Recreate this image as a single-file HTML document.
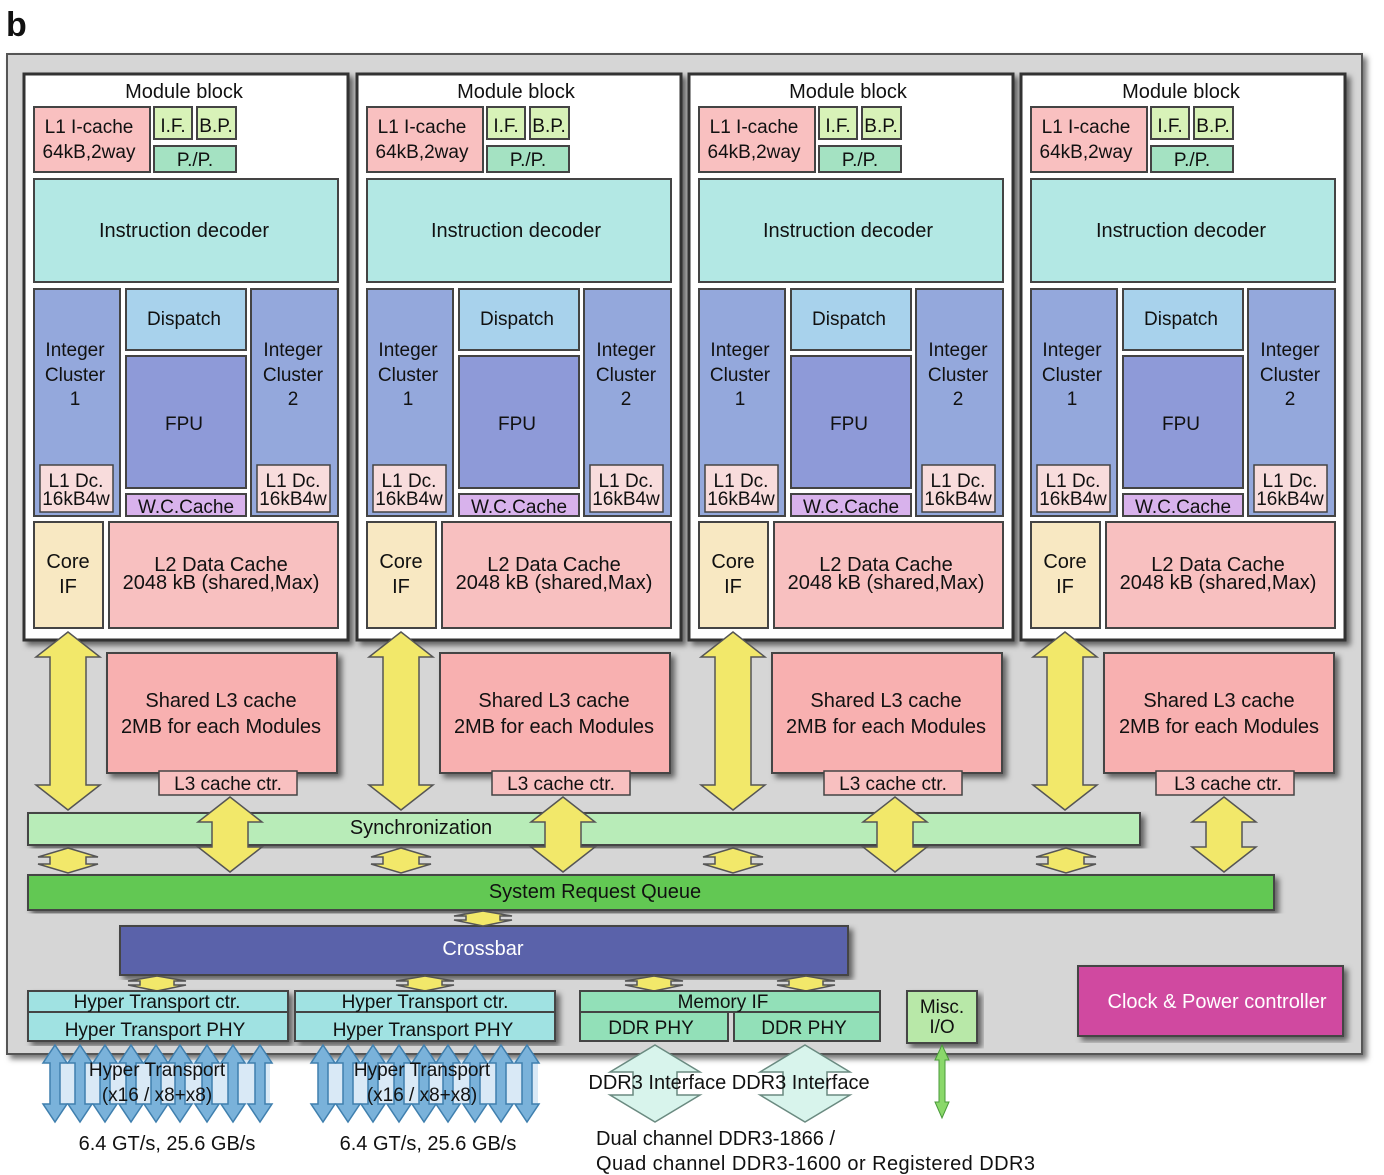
<!DOCTYPE html>
<html><head><meta charset="utf-8"><style>
html,body{margin:0;padding:0;background:#fff}
svg{display:block}
text{font-family:"Liberation Sans",Arial,sans-serif;fill:#111}
</style></head><body>
<svg width="1384" height="1175" viewBox="0 0 1384 1175" xmlns="http://www.w3.org/2000/svg">
<defs>
<filter id="sh" x="-5%" y="-5%" width="115%" height="115%"><feDropShadow dx="4" dy="4" stdDeviation="3" flood-color="#000" flood-opacity="0.55"/></filter>
</defs>
<text x="6" y="36" font-size="34" font-weight="bold">b</text>
<rect x="7" y="54" width="1355" height="1000" fill="#d6d6d6" stroke="#555" stroke-width="2" filter="url(#sh)"/>

<g id="mods" stroke="#444" stroke-width="2">
<g transform="translate(0,0)">
<rect x="24" y="74" width="324" height="566" fill="#fff" stroke="#333" stroke-width="3" filter="url(#sh)"/>
<rect x="34" y="107" width="116" height="65" fill="#f9c0c0"/>
<rect x="154" y="107" width="38" height="32" fill="#d8f2b8"/>
<rect x="197" y="107" width="39" height="32" fill="#d8f2b8"/>
<rect x="154" y="146" width="82" height="26" fill="#a4e2c2"/>
<rect x="34" y="179" width="304" height="103" fill="#b3e8e4"/>
<rect x="34" y="289" width="86" height="227" fill="#94a8dc"/>
<rect x="126" y="289" width="120" height="61" fill="#a8d2ec"/>
<rect x="126" y="356" width="120" height="132" fill="#8e9ad8"/>
<rect x="126" y="494" width="120" height="22" fill="#d8b2ec"/>
<rect x="251" y="289" width="87" height="227" fill="#94a8dc"/>
<rect x="40" y="465" width="73" height="47" fill="#f8dcdc" stroke-width="1.5"/>
<rect x="257" y="465" width="73" height="47" fill="#f8dcdc" stroke-width="1.5"/>
<rect x="34" y="522" width="69" height="106" fill="#f8e8c2"/>
<rect x="109" y="522" width="229" height="106" fill="#f8c0c0"/>
<rect x="107" y="653" width="230" height="120" fill="#f8b0b0" filter="url(#sh)"/>
<rect x="159" y="771" width="138" height="24" fill="#f8c0c0" stroke-width="1.5"/>
<path d="M68,632 L100,657 L86,657 L86,785 L100,785 L68,810 L36,785 L50,785 L50,657 L36,657 Z" fill="#f2e86a" stroke="#555" stroke-width="1.5"/>
</g>
<g transform="translate(333,0)">
<rect x="24" y="74" width="324" height="566" fill="#fff" stroke="#333" stroke-width="3" filter="url(#sh)"/>
<rect x="34" y="107" width="116" height="65" fill="#f9c0c0"/>
<rect x="154" y="107" width="38" height="32" fill="#d8f2b8"/>
<rect x="197" y="107" width="39" height="32" fill="#d8f2b8"/>
<rect x="154" y="146" width="82" height="26" fill="#a4e2c2"/>
<rect x="34" y="179" width="304" height="103" fill="#b3e8e4"/>
<rect x="34" y="289" width="86" height="227" fill="#94a8dc"/>
<rect x="126" y="289" width="120" height="61" fill="#a8d2ec"/>
<rect x="126" y="356" width="120" height="132" fill="#8e9ad8"/>
<rect x="126" y="494" width="120" height="22" fill="#d8b2ec"/>
<rect x="251" y="289" width="87" height="227" fill="#94a8dc"/>
<rect x="40" y="465" width="73" height="47" fill="#f8dcdc" stroke-width="1.5"/>
<rect x="257" y="465" width="73" height="47" fill="#f8dcdc" stroke-width="1.5"/>
<rect x="34" y="522" width="69" height="106" fill="#f8e8c2"/>
<rect x="109" y="522" width="229" height="106" fill="#f8c0c0"/>
<rect x="107" y="653" width="230" height="120" fill="#f8b0b0" filter="url(#sh)"/>
<rect x="159" y="771" width="138" height="24" fill="#f8c0c0" stroke-width="1.5"/>
<path d="M68,632 L100,657 L86,657 L86,785 L100,785 L68,810 L36,785 L50,785 L50,657 L36,657 Z" fill="#f2e86a" stroke="#555" stroke-width="1.5"/>
</g>
<g transform="translate(665,0)">
<rect x="24" y="74" width="324" height="566" fill="#fff" stroke="#333" stroke-width="3" filter="url(#sh)"/>
<rect x="34" y="107" width="116" height="65" fill="#f9c0c0"/>
<rect x="154" y="107" width="38" height="32" fill="#d8f2b8"/>
<rect x="197" y="107" width="39" height="32" fill="#d8f2b8"/>
<rect x="154" y="146" width="82" height="26" fill="#a4e2c2"/>
<rect x="34" y="179" width="304" height="103" fill="#b3e8e4"/>
<rect x="34" y="289" width="86" height="227" fill="#94a8dc"/>
<rect x="126" y="289" width="120" height="61" fill="#a8d2ec"/>
<rect x="126" y="356" width="120" height="132" fill="#8e9ad8"/>
<rect x="126" y="494" width="120" height="22" fill="#d8b2ec"/>
<rect x="251" y="289" width="87" height="227" fill="#94a8dc"/>
<rect x="40" y="465" width="73" height="47" fill="#f8dcdc" stroke-width="1.5"/>
<rect x="257" y="465" width="73" height="47" fill="#f8dcdc" stroke-width="1.5"/>
<rect x="34" y="522" width="69" height="106" fill="#f8e8c2"/>
<rect x="109" y="522" width="229" height="106" fill="#f8c0c0"/>
<rect x="107" y="653" width="230" height="120" fill="#f8b0b0" filter="url(#sh)"/>
<rect x="159" y="771" width="138" height="24" fill="#f8c0c0" stroke-width="1.5"/>
<path d="M68,632 L100,657 L86,657 L86,785 L100,785 L68,810 L36,785 L50,785 L50,657 L36,657 Z" fill="#f2e86a" stroke="#555" stroke-width="1.5"/>
</g>
<g transform="translate(997,0)">
<rect x="24" y="74" width="324" height="566" fill="#fff" stroke="#333" stroke-width="3" filter="url(#sh)"/>
<rect x="34" y="107" width="116" height="65" fill="#f9c0c0"/>
<rect x="154" y="107" width="38" height="32" fill="#d8f2b8"/>
<rect x="197" y="107" width="39" height="32" fill="#d8f2b8"/>
<rect x="154" y="146" width="82" height="26" fill="#a4e2c2"/>
<rect x="34" y="179" width="304" height="103" fill="#b3e8e4"/>
<rect x="34" y="289" width="86" height="227" fill="#94a8dc"/>
<rect x="126" y="289" width="120" height="61" fill="#a8d2ec"/>
<rect x="126" y="356" width="120" height="132" fill="#8e9ad8"/>
<rect x="126" y="494" width="120" height="22" fill="#d8b2ec"/>
<rect x="251" y="289" width="87" height="227" fill="#94a8dc"/>
<rect x="40" y="465" width="73" height="47" fill="#f8dcdc" stroke-width="1.5"/>
<rect x="257" y="465" width="73" height="47" fill="#f8dcdc" stroke-width="1.5"/>
<rect x="34" y="522" width="69" height="106" fill="#f8e8c2"/>
<rect x="109" y="522" width="229" height="106" fill="#f8c0c0"/>
<rect x="107" y="653" width="230" height="120" fill="#f8b0b0" filter="url(#sh)"/>
<rect x="159" y="771" width="138" height="24" fill="#f8c0c0" stroke-width="1.5"/>
<path d="M68,632 L100,657 L86,657 L86,785 L100,785 L68,810 L36,785 L50,785 L50,657 L36,657 Z" fill="#f2e86a" stroke="#555" stroke-width="1.5"/>
</g>

<rect x="28" y="813" width="1112" height="32" fill="#b8ecb8" filter="url(#sh)"/>
<rect x="28" y="875" width="1246" height="35" fill="#62c852" filter="url(#sh)"/>
<rect x="120" y="926" width="728" height="49" fill="#5a62aa" filter="url(#sh)"/>
<g fill="#f2e86a" stroke="#555" stroke-width="1.5">
<path d="M230,797 L262,822 L248,822 L248,847 L262,847 L230,872 L198,847 L212,847 L212,822 L198,822 Z"/>
<path d="M563,797 L595,822 L581,822 L581,847 L595,847 L563,872 L531,847 L545,847 L545,822 L531,822 Z"/>
<path d="M895,797 L927,822 L913,822 L913,847 L927,847 L895,872 L863,847 L877,847 L877,822 L863,822 Z"/>
<path d="M1224,797 L1256,822 L1242,822 L1242,847 L1256,847 L1224,872 L1192,847 L1206,847 L1206,822 L1192,822 Z"/>
<path d="M68,848 L98,857 L86,857 L86,864 L98,864 L68,873 L38,864 L50,864 L50,857 L38,857 Z"/>
<path d="M401,848 L431,857 L419,857 L419,864 L431,864 L401,873 L371,864 L383,864 L383,857 L371,857 Z"/>
<path d="M733,848 L763,857 L751,857 L751,864 L763,864 L733,873 L703,864 L715,864 L715,857 L703,857 Z"/>
<path d="M1066,848 L1096,857 L1084,857 L1084,864 L1096,864 L1066,873 L1036,864 L1048,864 L1048,857 L1036,857 Z"/>
<path d="M483,911 L512,916 L500,916 L500,920 L512,920 L483,926 L454,920 L466,920 L466,916 L454,916 Z"/>
<path d="M157,976 L186,981 L174,981 L174,985 L186,985 L157,991 L128,985 L140,985 L140,981 L128,981 Z"/>
<path d="M425,976 L454,981 L442,981 L442,985 L454,985 L425,991 L396,985 L408,985 L408,981 L396,981 Z"/>
<path d="M654,976 L683,981 L671,981 L671,985 L683,985 L654,991 L625,985 L637,985 L637,981 L625,981 Z"/>
<path d="M806,976 L835,981 L823,981 L823,985 L835,985 L806,991 L777,985 L789,985 L789,981 L777,981 Z"/>
</g>
<rect x="28" y="991" width="260" height="50" fill="#a0e2e2" filter="url(#sh)"/>
<line x1="28" y1="1012" x2="288" y2="1012"/>
<rect x="295" y="991" width="260" height="50" fill="#a0e2e2" filter="url(#sh)"/>
<line x1="295" y1="1012" x2="555" y2="1012"/>
<rect x="580" y="991" width="300" height="21" fill="#92e0b8"/>
<rect x="580" y="1012" width="148" height="29" fill="#92e0b8"/>
<rect x="734" y="1012" width="146" height="29" fill="#92e0b8"/>
<rect x="907" y="991" width="70" height="52" fill="#b8e8a8" filter="url(#sh)"/>
<rect x="1078" y="966" width="265" height="70" fill="#d04aa0" filter="url(#sh)"/>
</g>

<g fill="#7ab2da" stroke="#3f7fae" stroke-width="1.5">
<rect x="50" y="1060" width="220" height="45" fill="#cfe4f4" stroke="none" opacity="0.8"/>
<rect x="318" y="1060" width="220" height="45" fill="#cfe4f4" stroke="none" opacity="0.8"/>
<path d="M55,1045 L67,1063 L60,1063 L60,1104 L67,1104 L55,1122 L43,1104 L50,1104 L50,1063 L43,1063 Z"/>
<path d="M80,1045 L92,1063 L85,1063 L85,1104 L92,1104 L80,1122 L68,1104 L75,1104 L75,1063 L68,1063 Z"/>
<path d="M105,1045 L117,1063 L110,1063 L110,1104 L117,1104 L105,1122 L93,1104 L100,1104 L100,1063 L93,1063 Z"/>
<path d="M131,1045 L143,1063 L136,1063 L136,1104 L143,1104 L131,1122 L119,1104 L126,1104 L126,1063 L119,1063 Z"/>
<path d="M156,1045 L168,1063 L161,1063 L161,1104 L168,1104 L156,1122 L144,1104 L151,1104 L151,1063 L144,1063 Z"/>
<path d="M180,1045 L192,1063 L185,1063 L185,1104 L192,1104 L180,1122 L168,1104 L175,1104 L175,1063 L168,1063 Z"/>
<path d="M207,1045 L219,1063 L212,1063 L212,1104 L219,1104 L207,1122 L195,1104 L202,1104 L202,1063 L195,1063 Z"/>
<path d="M233,1045 L245,1063 L238,1063 L238,1104 L245,1104 L233,1122 L221,1104 L228,1104 L228,1063 L221,1063 Z"/>
<path d="M260,1045 L272,1063 L265,1063 L265,1104 L272,1104 L260,1122 L248,1104 L255,1104 L255,1063 L248,1063 Z"/>
<path d="M323,1045 L335,1063 L328,1063 L328,1104 L335,1104 L323,1122 L311,1104 L318,1104 L318,1063 L311,1063 Z"/>
<path d="M348,1045 L360,1063 L353,1063 L353,1104 L360,1104 L348,1122 L336,1104 L343,1104 L343,1063 L336,1063 Z"/>
<path d="M373,1045 L385,1063 L378,1063 L378,1104 L385,1104 L373,1122 L361,1104 L368,1104 L368,1063 L361,1063 Z"/>
<path d="M399,1045 L411,1063 L404,1063 L404,1104 L411,1104 L399,1122 L387,1104 L394,1104 L394,1063 L387,1063 Z"/>
<path d="M424,1045 L436,1063 L429,1063 L429,1104 L436,1104 L424,1122 L412,1104 L419,1104 L419,1063 L412,1063 Z"/>
<path d="M448,1045 L460,1063 L453,1063 L453,1104 L460,1104 L448,1122 L436,1104 L443,1104 L443,1063 L436,1063 Z"/>
<path d="M475,1045 L487,1063 L480,1063 L480,1104 L487,1104 L475,1122 L463,1104 L470,1104 L470,1063 L463,1063 Z"/>
<path d="M501,1045 L513,1063 L506,1063 L506,1104 L513,1104 L501,1122 L489,1104 L496,1104 L496,1063 L489,1063 Z"/>
<path d="M527,1045 L539,1063 L532,1063 L532,1104 L539,1104 L527,1122 L515,1104 L522,1104 L522,1063 L515,1063 Z"/>
</g>
<g fill="#d8f4ec" stroke="#6a8a80" stroke-width="1.5">
<path d="M655,1045 L700,1072 L677,1072 L677,1095 L700,1095 L655,1122 L610,1095 L633,1095 L633,1072 L610,1072 Z"/>
<path d="M805,1045 L850,1072 L827,1072 L827,1095 L850,1095 L805,1122 L760,1095 L783,1095 L783,1072 L760,1072 Z"/>
</g>
<path d="M942,1045 L949,1060 L945,1060 L945,1102 L949,1102 L942,1118 L935,1102 L939,1102 L939,1060 L935,1060 Z" fill="#8ad86a" stroke="#4a9a3a" stroke-width="1"/>

<g font-size="20" text-anchor="middle">
<text x="184" y="98">Module block</text><text x="516" y="98">Module block</text><text x="848" y="98">Module block</text><text x="1181" y="98">Module block</text>
<g font-size="19">
<text x="89" y="133">L1 I-cache</text><text x="89" y="158">64kB,2way</text>
<text x="173" y="132">I.F.</text><text x="216" y="132">B.P.</text><text x="195" y="166">P./P.</text>
<text x="422" y="133">L1 I-cache</text><text x="422" y="158">64kB,2way</text>
<text x="506" y="132">I.F.</text><text x="549" y="132">B.P.</text><text x="528" y="166">P./P.</text>
<text x="754" y="133">L1 I-cache</text><text x="754" y="158">64kB,2way</text>
<text x="838" y="132">I.F.</text><text x="881" y="132">B.P.</text><text x="860" y="166">P./P.</text>
<text x="1086" y="133">L1 I-cache</text><text x="1086" y="158">64kB,2way</text>
<text x="1170" y="132">I.F.</text><text x="1213" y="132">B.P.</text><text x="1192" y="166">P./P.</text>
</g>
<text x="184" y="237">Instruction decoder</text><text x="516" y="237">Instruction decoder</text><text x="848" y="237">Instruction decoder</text><text x="1181" y="237">Instruction decoder</text>
<g font-size="19">
<text x="184" y="325">Dispatch</text><text x="517" y="325">Dispatch</text><text x="849" y="325">Dispatch</text><text x="1181" y="325">Dispatch</text>
<text x="184" y="430">FPU</text><text x="517" y="430">FPU</text><text x="849" y="430">FPU</text><text x="1181" y="430">FPU</text>
<text x="186" y="513">W.C.Cache</text><text x="519" y="513">W.C.Cache</text><text x="851" y="513">W.C.Cache</text><text x="1183" y="513">W.C.Cache</text>
</g>
<g font-size="19">
<text x="75" y="356">Integer</text><text x="75" y="381">Cluster</text><text x="75" y="405">1</text>
<text x="293" y="356">Integer</text><text x="293" y="381">Cluster</text><text x="293" y="405">2</text>
<text x="408" y="356">Integer</text><text x="408" y="381">Cluster</text><text x="408" y="405">1</text>
<text x="626" y="356">Integer</text><text x="626" y="381">Cluster</text><text x="626" y="405">2</text>
<text x="740" y="356">Integer</text><text x="740" y="381">Cluster</text><text x="740" y="405">1</text>
<text x="958" y="356">Integer</text><text x="958" y="381">Cluster</text><text x="958" y="405">2</text>
<text x="1072" y="356">Integer</text><text x="1072" y="381">Cluster</text><text x="1072" y="405">1</text>
<text x="1290" y="356">Integer</text><text x="1290" y="381">Cluster</text><text x="1290" y="405">2</text>
</g>
<g font-size="19">
<text x="76" y="487">L1 Dc.</text><text x="76" y="505">16kB4w</text>
<text x="293" y="487">L1 Dc.</text><text x="293" y="505">16kB4w</text>
<text x="409" y="487">L1 Dc.</text><text x="409" y="505">16kB4w</text>
<text x="626" y="487">L1 Dc.</text><text x="626" y="505">16kB4w</text>
<text x="741" y="487">L1 Dc.</text><text x="741" y="505">16kB4w</text>
<text x="958" y="487">L1 Dc.</text><text x="958" y="505">16kB4w</text>
<text x="1073" y="487">L1 Dc.</text><text x="1073" y="505">16kB4w</text>
<text x="1290" y="487">L1 Dc.</text><text x="1290" y="505">16kB4w</text>
</g>
<g font-size="20">
<text x="68" y="568">Core</text><text x="68" y="593">IF</text>
<text x="401" y="568">Core</text><text x="401" y="593">IF</text>
<text x="733" y="568">Core</text><text x="733" y="593">IF</text>
<text x="1065" y="568">Core</text><text x="1065" y="593">IF</text>
<text x="221" y="571">L2 Data Cache</text><text x="221" y="589">2048 kB (shared,Max)</text>
<text x="554" y="571">L2 Data Cache</text><text x="554" y="589">2048 kB (shared,Max)</text>
<text x="886" y="571">L2 Data Cache</text><text x="886" y="589">2048 kB (shared,Max)</text>
<text x="1218" y="571">L2 Data Cache</text><text x="1218" y="589">2048 kB (shared,Max)</text>
</g>
<g font-size="20">
<text x="221" y="707">Shared L3 cache</text><text x="221" y="733">2MB for each Modules</text>
<text x="554" y="707">Shared L3 cache</text><text x="554" y="733">2MB for each Modules</text>
<text x="886" y="707">Shared L3 cache</text><text x="886" y="733">2MB for each Modules</text>
<text x="1219" y="707">Shared L3 cache</text><text x="1219" y="733">2MB for each Modules</text>
</g>
<g font-size="19">
<text x="228" y="790">L3 cache ctr.</text><text x="561" y="790">L3 cache ctr.</text><text x="893" y="790">L3 cache ctr.</text><text x="1228" y="790">L3 cache ctr.</text>
</g>
<text x="421" y="834">Synchronization</text>
<text x="595" y="898">System Request Queue</text>
<text x="483" y="955" style="fill:#fff">Crossbar</text>
<g font-size="19">
<text x="157" y="1008">Hyper Transport ctr.</text><text x="155" y="1036">Hyper Transport PHY</text>
<text x="425" y="1008">Hyper Transport ctr.</text><text x="423" y="1036">Hyper Transport PHY</text>
<text x="723" y="1008">Memory IF</text>
<text x="651" y="1034">DDR PHY</text><text x="804" y="1034">DDR PHY</text>
<text x="942" y="1013">Misc.</text><text x="942" y="1033">I/O</text>
</g>
<text x="1217" y="1008" style="fill:#fff">Clock &amp; Power controller</text>
<g font-size="19">
<text x="157" y="1076">Hyper Transport</text><text x="157" y="1101">(x16 / x8+x8)</text>
<text x="422" y="1076">Hyper Transport</text><text x="422" y="1101">(x16 / x8+x8)</text>
</g>
<g font-size="20">
<text x="167" y="1150">6.4 GT/s, 25.6 GB/s</text>
<text x="428" y="1150">6.4 GT/s, 25.6 GB/s</text>
<text x="729" y="1089">DDR3 Interface  DDR3 Interface</text>
</g>
<g font-size="20" text-anchor="start">
<text x="596" y="1145">Dual channel DDR3-1866 /</text>
<text x="596" y="1170" textLength="439">Quad channel DDR3-1600 or Registered DDR3</text>
</g>
</g>
</svg>
</body></html>
